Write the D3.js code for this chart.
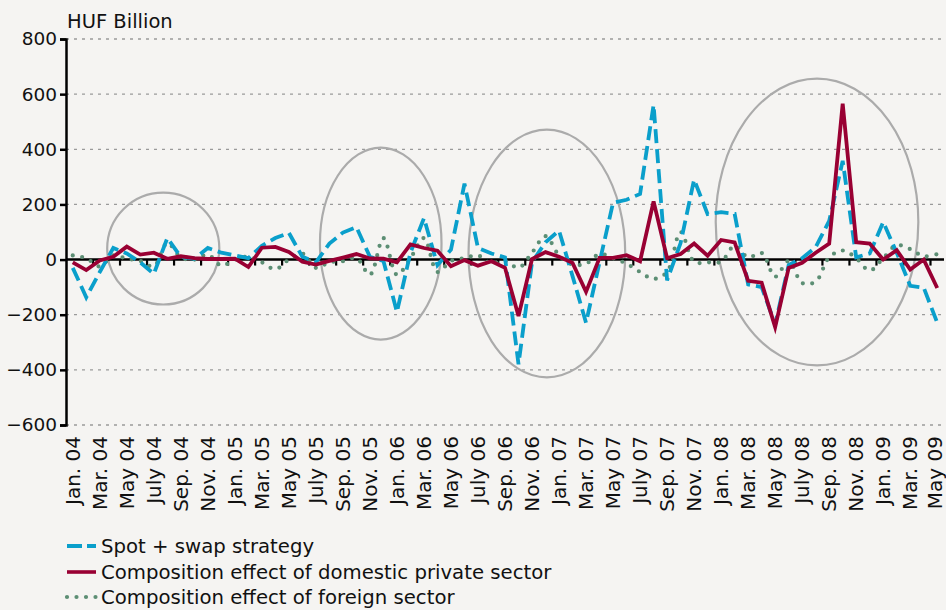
<!DOCTYPE html>
<html>
<head>
<meta charset="utf-8">
<script src="https://cdn.jsdelivr.net/npm/d3@7"></script>
<style>
  html, body { margin: 0; padding: 0; background: #F5F4F2; }
  svg { display: block; font-family: "DejaVu Sans", sans-serif; }
</style>
</head>
<body>
<svg id="chart" width="946" height="610"></svg>
<script>
// ---- Data ----
const categories = [
  "Jan. 04","Feb. 04","Mar. 04","Apr. 04","May 04","June 04","July 04","Aug. 04","Sep. 04","Oct. 04","Nov. 04","Dec. 04",
  "Jan. 05","Feb. 05","Mar. 05","Apr. 05","May 05","June 05","July 05","Aug. 05","Sep. 05","Oct. 05","Nov. 05","Dec. 05",
  "Jan. 06","Feb. 06","Mar. 06","Apr. 06","May 06","June 06","July 06","Aug. 06","Sep. 06","Oct. 06","Nov. 06","Dec. 06",
  "Jan. 07","Feb. 07","Mar. 07","Apr. 07","May 07","June 07","July 07","Aug. 07","Sep. 07","Oct. 07","Nov. 07","Dec. 07",
  "Jan. 08","Feb. 08","Mar. 08","Apr. 08","May 08","June 08","July 08","Aug. 08","Sep. 08","Oct. 08","Nov. 08","Dec. 08",
  "Jan. 09","Feb. 09","Mar. 09","Apr. 09","May 09"
];
const tickLabels = [
  "Jan. 04","Mar. 04","May 04","July 04","Sep. 04","Nov. 04",
  "Jan. 05","Mar. 05","May 05","July 05","Sep. 05","Nov. 05",
  "Jan. 06","Mar. 06","May 06","July 06","Sep. 06","Nov. 06",
  "Jan. 07","Mar. 07","May 07","July 07","Sep. 07","Nov. 07",
  "Jan. 08","Mar. 08","May 08","July 08","Sep. 08","Nov. 08",
  "Jan. 09","Mar. 09","May 09"
];
const spotSwap = [
  -30, -137, -45, 42, 22, -10, -52, 78, 10, 3, 42, 25,
  15, 5, 50, 78, 97, 10, -10, 58, 98, 118, 10, -5,
  -190, 25, 150, -20, 36, 275, 42, 22, 8, -380, -10, 63,
  105, -60, -229, -10, 206, 217, 238, 561, -75, 60, 290, 165,
  172, 166, -90, -100, -235, -20, 5, 45, 140, 358, 8, 22,
  136, 25, -95, -102, -229
];
const domesticPrivate = [
  -10, -38, -3, 10, 47, 18, 25, 3, 12, 5, 2, 2,
  3, -27, 43, 46, 28, -8, -18, -5, 7, 20, 4, 3,
  -10, 55, 42, 32, -24, -2, -22, -6, -30, -205, 2, 27,
  10, -12, -117, 6, 6, 16, -6, 211, 5, 20, 58, 14,
  71, 62, -77, -84, -245, -30, -12, 25, 58, 565, 63, 58,
  0, 34, -36, 0, -103
];
const foreignSector = [
  15, 5, -25, 15, 3, -5, -25, 60, 8, 0, 18, -22,
  0, 10, -10, -35, 0, 22, -30, -10, -6, 5, -55, 78,
  -55, 5, 78, -45, -5, 5, 15, -15, -5, -30, 25, 85,
  15, -18, -15, 20, 5, -15, -45, -70, -45, 100, -8, -10,
  -8, 50, 8, 24, -62, -5, -85, -80, 8, 33, 5, -40,
  5, 52, 38, 12, 20
];
const seriesNames = ["Spot + swap strategy", "Composition effect of domestic private sector", "Composition effect of foreign sector"];
const yTicks = [-600, -400, -200, 0, 200, 400, 600, 800];
// annotation ellipses: centre (month index, value), radii (months, value units)
const ellipseCentreMonth = [6.7, 22.8, 35.1, 55.1];
const ellipseCentreValue = [40, 58, 22, 136];
const ellipseRadiusMonths = [4.15, 4.5, 5.8, 7.5];
const ellipseRadiusValue = [203, 348, 449, 520];

// ---- Layout ----
const W = 946;
const svg = d3.select("#chart");
const plotLeft = 66, plotRight = 944, plotTop = 39, plotBottom = 425;

const x = d3.scalePoint().domain(categories).range([plotLeft, plotRight]).padding(0.5);
const step = x.step();
const y = d3.scaleLinear().domain([-600, 800]).range([plotBottom, plotTop]);

const colors = { blue: "#0A9FCB", red: "#990033", green: "#5C8E74", grid: "#9a9a9a", ellipse: "#ABABAB" };

// gridlines
svg.append("g").selectAll("line").data(yTicks.filter(d => d !== 0)).join("line")
  .attr("x1", plotLeft).attr("x2", plotRight)
  .attr("y1", d => y(d)).attr("y2", d => y(d))
  .attr("stroke", colors.grid).attr("stroke-width", 1.3)
  .attr("stroke-dasharray", "3,5");

// ellipses (annotations)
const ellipseIdx = d3.range(ellipseCentreMonth.length);
const monthToX = m => x(categories[0]) + m * step;
svg.append("g").selectAll("ellipse").data(ellipseIdx).join("ellipse")
  .attr("cx", i => monthToX(ellipseCentreMonth[i]))
  .attr("cy", i => y(ellipseCentreValue[i]))
  .attr("rx", i => ellipseRadiusMonths[i] * step)
  .attr("ry", i => y(0) - y(ellipseRadiusValue[i]))
  .attr("fill", "none").attr("stroke", colors.ellipse).attr("stroke-width", 2.2);

// y axis
const yAxis = d3.axisLeft(y).tickValues(yTicks).tickSize(6).tickPadding(3)
  .tickFormat(d => d < 0 ? "\u2212" + Math.abs(d) : d);
const gy = svg.append("g").attr("transform", `translate(${plotLeft},0)`).call(yAxis);
gy.select(".domain").attr("stroke", "#000").attr("stroke-width", 2.5);
gy.selectAll(".tick line").attr("stroke", "#000").attr("stroke-width", 2.5);
gy.selectAll(".tick text").attr("font-size", 18.5).attr("fill", "#111")
  .attr("font-family", "DejaVu Sans");

// x axis at zero line
svg.append("line").attr("x1", plotLeft).attr("x2", plotRight)
  .attr("y1", y(0)).attr("y2", y(0)).attr("stroke", "#000").attr("stroke-width", 2.5);
const tickIdx = d3.range(2, categories.length + 1, 2);
svg.append("g").selectAll("line").data(tickIdx).join("line")
  .attr("x1", i => x(categories[0]) - step / 2 + i * step)
  .attr("x2", i => x(categories[0]) - step / 2 + i * step)
  .attr("y1", y(0)).attr("y2", y(0) + 6)
  .attr("stroke", "#000").attr("stroke-width", 2.2);

// x tick labels (rotated); keep the last one inside the frame
const labelFont = 20, halfGlyph = 0.5 * labelFont;
svg.append("g").selectAll("text").data(tickLabels).join("text")
  .attr("transform", d => `translate(${Math.min(x(d), W - halfGlyph - 1)},${plotBottom + 11}) rotate(-90)`)
  .attr("text-anchor", "end").attr("dy", "0.36em")
  .attr("font-size", labelFont).attr("fill", "#111").text(d => d);

// y unit label
svg.append("text").attr("x", plotLeft + 1).attr("y", 28)
  .attr("font-size", 19.5).attr("fill", "#111").text("HUF Billion");

// lines
const lineStraight = d3.line().x((d, i) => x(categories[i])).y(d => y(d));
const lineSmooth = d3.line().x((d, i) => x(categories[i])).y(d => y(d)).curve(d3.curveCatmullRom.alpha(0.5));

svg.append("path").datum(foreignSector).attr("d", lineSmooth)
  .attr("fill", "none").attr("stroke", colors.green).attr("stroke-width", 4.2)
  .attr("stroke-linecap", "round").attr("stroke-dasharray", "0,9.5");
svg.append("path").datum(spotSwap).attr("d", lineStraight)
  .attr("fill", "none").attr("stroke", colors.blue).attr("stroke-width", 3.8)
  .attr("stroke-dasharray", "14,6");
svg.append("path").datum(domesticPrivate).attr("d", lineStraight)
  .attr("fill", "none").attr("stroke", colors.red).attr("stroke-width", 3.8)
  .attr("stroke-linejoin", "miter");

// legend
const legendY = [546, 572, 597];
const lg = svg.append("g");
lg.append("line").attr("x1", 67).attr("x2", 96).attr("y1", legendY[0]).attr("y2", legendY[0])
  .attr("stroke", colors.blue).attr("stroke-width", 3.8).attr("stroke-dasharray", "15,5");
lg.append("line").attr("x1", 67).attr("x2", 96).attr("y1", legendY[1]).attr("y2", legendY[1])
  .attr("stroke", colors.red).attr("stroke-width", 3.6);
lg.append("line").attr("x1", 67).attr("x2", 96).attr("y1", legendY[2]).attr("y2", legendY[2])
  .attr("stroke", colors.green).attr("stroke-width", 4.2).attr("stroke-linecap", "round")
  .attr("stroke-dasharray", "0,9.5");
lg.selectAll("text").data(seriesNames).join("text")
  .attr("x", 101).attr("y", (d, i) => legendY[i]).attr("dy", "0.36em")
  .attr("font-size", 19.7).attr("fill", "#111").text(d => d);
</script>
</body>
</html>
